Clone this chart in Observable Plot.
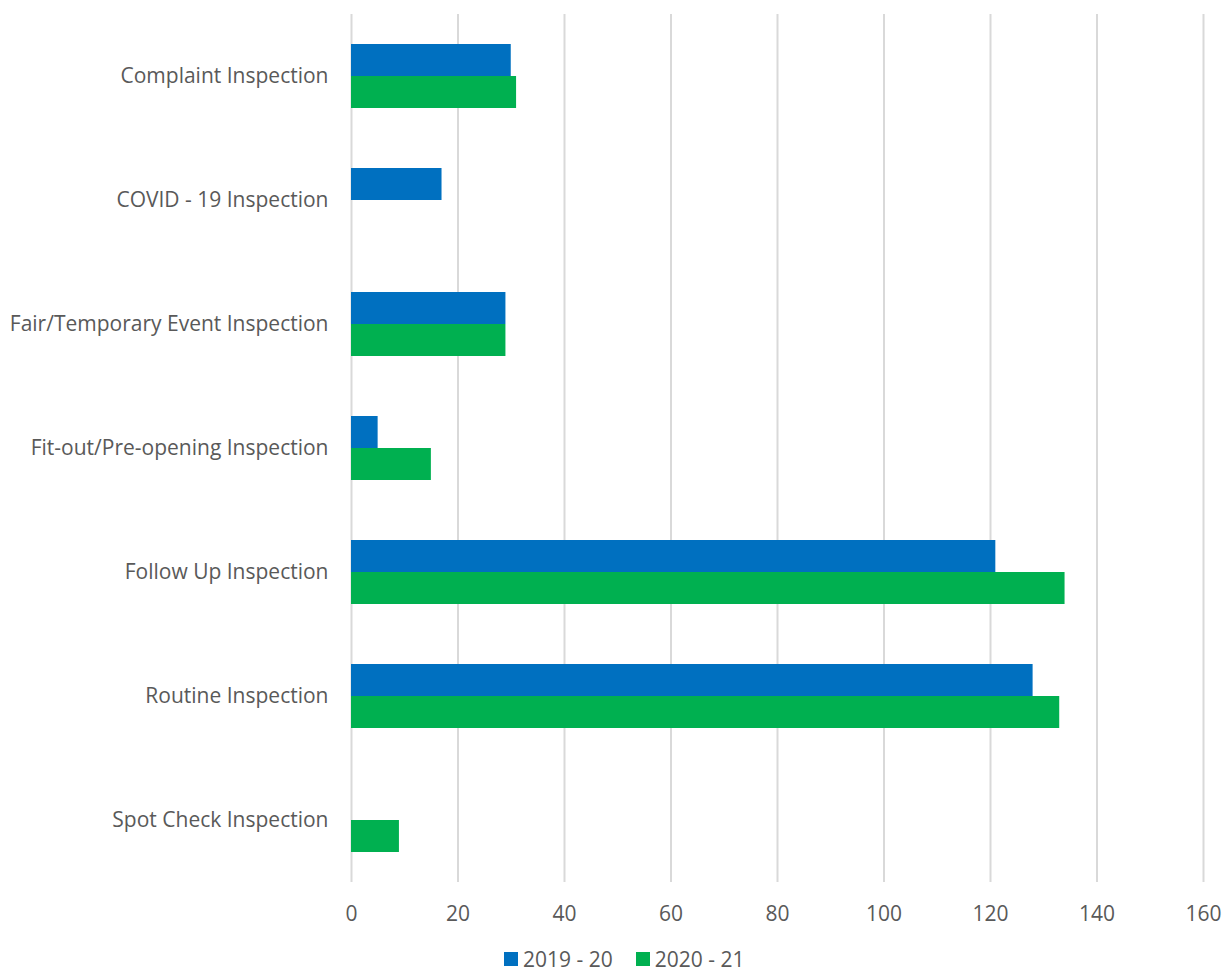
<!DOCTYPE html>
<html>
<head>
<meta charset="utf-8">
<script src="https://cdn.jsdelivr.net/npm/d3@7"></script>
<script src="https://cdn.jsdelivr.net/npm/@observablehq/plot@0.6"></script>
<style>
  html, body { margin: 0; padding: 0; background: #fff; }
  body { width: 1223px; height: 975px; overflow: hidden; font-family: "Open Sans", sans-serif; position: relative; }
  #legend { position: absolute; left: 504px; top: 946px; height: 26px; line-height: 26px; display: flex; gap: 23px; font-size: 21px; color: #595959; }
  .item { display: flex; align-items: center; gap: 5px; }
  .sw { width: 14px; height: 14px; display: inline-block; }
</style>
</head>
<body>
<div id="chart"></div>
<div id="legend"></div>
<script>
const categories = [
  "Complaint Inspection",
  "COVID - 19 Inspection",
  "Fair/Temporary Event Inspection",
  "Fit-out/Pre-opening Inspection",
  "Follow Up Inspection",
  "Routine Inspection",
  "Spot Check Inspection"
];
const seriesNames = ["2019 - 20", "2020 - 21"];
const values2019 = [30, 17, 29, 5, 121, 128, 0];
const values2020 = [31, 0, 29, 15, 134, 133, 9];
const colors = ["#0070C0", "#00B050"];
const xTicks = [0, 20, 40, 60, 80, 100, 120, 140, 160];

const data = [];
categories.forEach((c, i) => {
  data.push({category: c, series: seriesNames[0], value: values2019[i]});
  data.push({category: c, series: seriesNames[1], value: values2020[i]});
});

const chart = Plot.plot({
  width: 1223,
  height: 940,
  marginLeft: 351,
  marginRight: 20,
  marginTop: 14,
  marginBottom: 58,
  style: {fontFamily: "Open Sans, sans-serif", fontSize: "21px", color: "#595959", background: "#fff"},
  x: {domain: [0, 160], ticks: xTicks, label: null},
  fy: {domain: categories, padding: 0, label: null},
  y: {domain: seriesNames, paddingInner: 0, paddingOuter: 0.9375, axis: null},
  color: {domain: seriesNames, range: colors},
  marks: [
    Plot.ruleX(xTicks, {stroke: "#d9d9d9", strokeWidth: 2}),
    Plot.barX(data, {fy: "category", y: "series", x: "value", fill: "series", insetTop: 0, insetBottom: 0}),
    Plot.axisX({ticks: xTicks, tickSize: 0, tickPadding: 24, label: null, fill: "#595959", anchor: "bottom"}),
    Plot.axisFy({tickSize: 0, tickPadding: 23, label: null, fill: "#595959", anchor: "left"})
  ]
});
document.getElementById("chart").appendChild(chart);

const legend = document.getElementById("legend");
seriesNames.forEach((s, i) => {
  const it = document.createElement("div");
  it.className = "item";
  const sw = document.createElement("span");
  sw.className = "sw";
  sw.style.background = colors[i];
  const t = document.createElement("span");
  t.textContent = s;
  it.appendChild(sw);
  it.appendChild(t);
  legend.appendChild(it);
});
</script>
</body>
</html>
